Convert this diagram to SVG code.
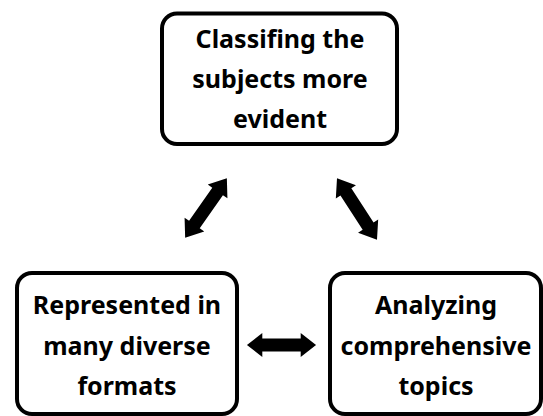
<svg xmlns="http://www.w3.org/2000/svg" width="543" height="416" viewBox="0 0 543 416">
<style>
.box{fill:#fff;stroke:#000;stroke-width:4}
.t{font-family:"Noto Sans","Open Sans","DejaVu Sans",sans-serif;font-weight:700;font-size:25px;fill:#000;text-anchor:middle}
.arr{fill:#000}
</style>
<defs>
<path id="dbl" d="M-36,0 L-20,-12 L-20,-6.5 L20,-6.5 L20,-12 L36,0 L20,12 L20,6.5 L-20,6.5 L-20,12 Z"/>
</defs>
<rect width="543" height="416" fill="#fff"/>
<g id="connectors">
<use href="#dbl" class="arr" transform="translate(281.5,345) scale(0.96,1)"/>
<use href="#dbl" class="arr" transform="translate(206,208) rotate(-55) scale(1.01,1)"/>
<use href="#dbl" class="arr" transform="translate(357,209) rotate(57) scale(1.02,1)"/>
</g>
<g id="node-top">
<rect class="box" x="162" y="13.5" width="235" height="130.5" rx="15"/>
<text class="t" x="280" y="48">Classifing the</text>
<text class="t" x="280" y="88">subjects more</text>
<text class="t" x="280" y="128">evident</text>
</g>
<g id="node-left">
<rect class="box" x="17" y="273" width="220" height="141" rx="15"/>
<text class="t" x="127" y="314">Represented in</text>
<text class="t" x="127" y="355">many diverse</text>
<text class="t" x="127" y="395">formats</text>
</g>
<g id="node-right">
<rect class="box" x="330" y="273" width="211" height="141" rx="15"/>
<text class="t" x="436" y="314">Analyzing</text>
<text class="t" x="436" y="355">comprehensive</text>
<text class="t" x="436" y="395">topics</text>
</g>
</svg>
